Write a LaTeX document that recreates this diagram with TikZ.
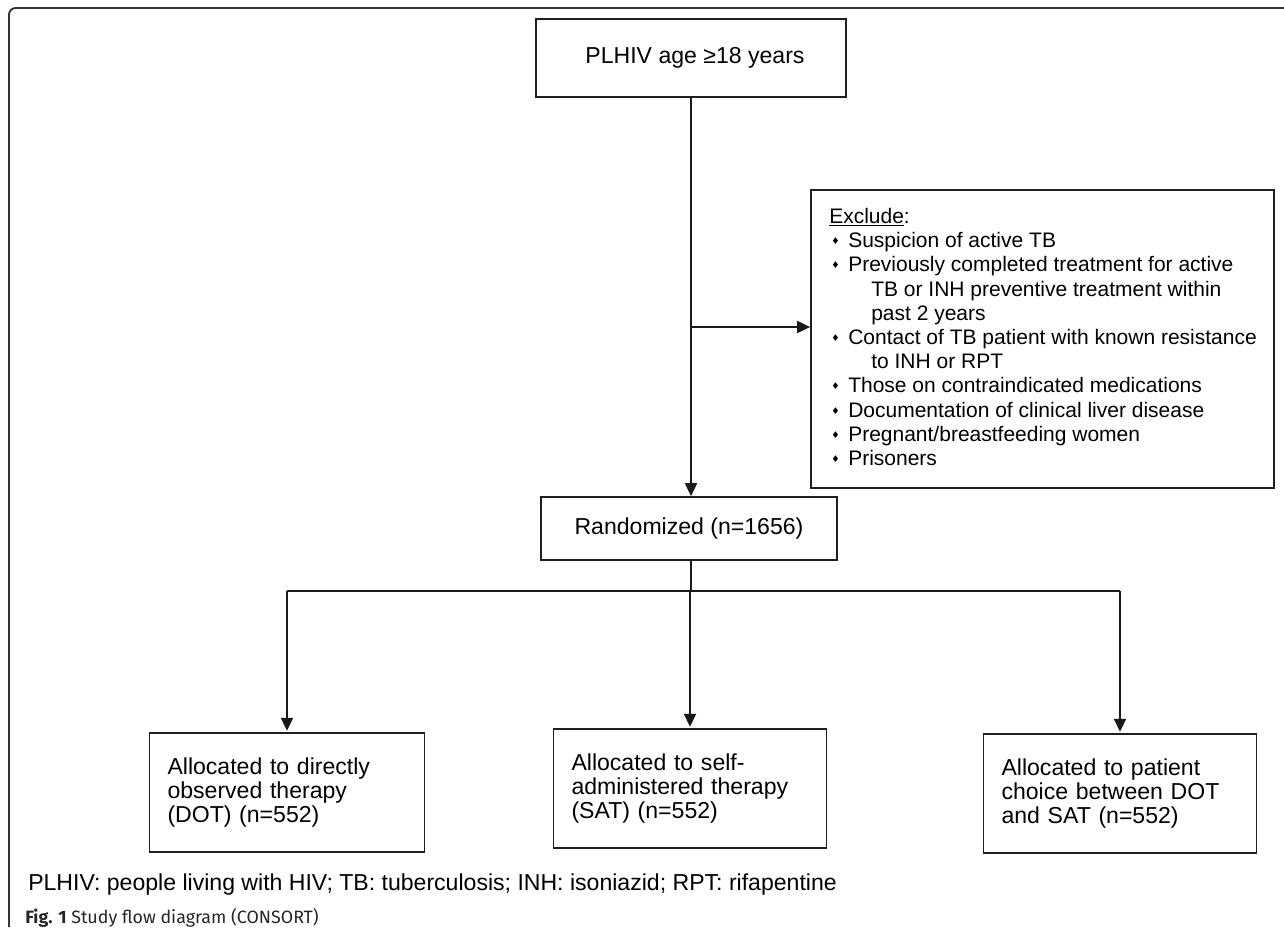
\documentclass[tikz,border=0pt]{standalone}
\usepackage{fontspec}
\setmainfont{Liberation Sans}
\newfontfamily\capfont{Fira Sans}
\newfontfamily\symfont{DejaVu Sans}
\usetikzlibrary{arrows.meta}
\newcommand{\bul}{\makebox[12.75pt][l]{\raisebox{2.2pt}{\fontsize{7pt}{7pt}\symfont ♦}}}
\begin{document}
\begin{tikzpicture}[x=0.75pt,y=-0.75pt,
  box/.style={draw=black!88, line width=1.3pt, inner sep=0pt, font=\fontsize{17.3pt}{18pt}\selectfont},
  lbox/.style={box, align=left, inner xsep=13.5pt, text width=177.75pt, minimum height=89.25pt},
  conn/.style={line width=1.4pt, draw=black!90},
  arr/.style={conn, -{Triangle[length=9.75pt,width=9pt]}},
  exl/.style={anchor=base west, inner sep=0pt, font=\fontsize{15.75pt}{18pt}\selectfont},
  foot/.style={anchor=base west, inner sep=0pt},
]
\useasboundingbox (0,0) rectangle (1284,936);
\draw[line width=1.4pt, black!80, rounded corners=5pt] (1284,8) -- (9,8) -- (9,927);

% boxes
\node[box, minimum width=232.5pt, minimum height=58.5pt] (top) at (691,58) {\hspace*{6pt}PLHIV age ≥18 years};
\node[box, minimum width=347.25pt, minimum height=223.5pt] (excl) at (1042.5,339) {};
\node[box, minimum width=222pt, minimum height=47.25pt] (rand) at (689,528.5) {Randomized (n=1656)};
\node[lbox, text width=179.25pt] (dot) at (287,792.5) {Allocated to directly\\observed therapy\\(DOT) (n=552)};
\node[lbox] (sat) at (690,788.5) {Allocated to self-\\administered therapy\\(SAT) (n=552)};
\node[lbox] (pc) at (1120,793.5) {Allocated to patient\\choice between DOT\\and SAT (n=552)};

% exclusion text
\node[exl] (e0) at (829,223.5) {\underline{Exclude}:};
\node[exl] (e1) at (831,247.7) {\bul Suspicion of active TB};
\node[exl] (e2) at (831,271.9) {\bul Previously completed treatment for active};
\node[exl] (e3) at (871,296.1) {TB or INH preventive treatment within};
\node[exl] (e4) at (871,320.3) {past 2 years};
\node[exl] (e5) at (831,344.5) {\bul Contact of TB patient with known resistance};
\node[exl] (e6) at (871,368.7) {to INH or RPT};
\node[exl] (e7) at (831,392.9) {\bul Those on contraindicated medications};
\node[exl] (e8) at (831,417.1) {\bul Documentation of clinical liver disease};
\node[exl] (e9) at (831,441.3) {\bul Pregnant/breastfeeding women};
\node[exl] (e10) at (831,465.5) {\bul Prisoners};

% connectors
\coordinate (bx) at (691,327);
\coordinate (hb) at (691,591);
\draw[arr] (bx |- top.south) -- (bx |- rand.north);
\draw[arr] (bx) -- (bx -| excl.west);
\draw[conn] (rand.south -| hb) -- (hb);
\draw[conn] (hb -| dot.north) -- (hb -| pc.north);
\draw[arr] (hb -| dot.north) -- ([yshift=1pt]dot.north);
\draw[arr] (hb -| sat.north) -- ([yshift=1pt]sat.north);
\draw[arr] (hb -| pc.north) -- ([yshift=1pt]pc.north);

% footnote and caption
\node[foot, font=\fontsize{17.3pt}{18pt}\selectfont] (fn) at (28,890) {PLHIV: people living with HIV; TB: tuberculosis; INH: isoniazid; RPT: rifapentine};
\node[foot, font=\fontsize{13.4pt}{15pt}\capfont, text=black!85] (cap) at (25,923) {\textbf{Fig. 1} Study flow diagram (CONSORT)};
\end{tikzpicture}
\end{document}
